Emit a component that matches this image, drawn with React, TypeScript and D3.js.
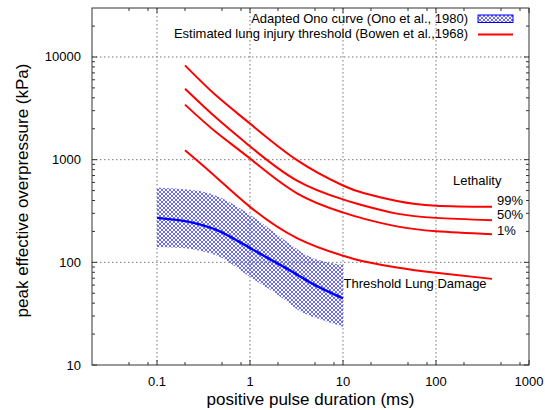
import React from "react";
import * as d3 from "d3";

// curves (x in ms, y in kPa)
const lethX = [0.2, 0.43, 1, 3.2, 10, 17, 38, 100, 400];
const leth99 = [8280, 4230, 2245, 990, 560, 470, 395, 356, 347];
const leth50 = [4910, 2570, 1349, 625, 410, 355, 298, 271, 257];
const leth1 = [3435, 1857, 1026, 470, 306, 265, 224, 201, 188];
const threshold = [1234, 679, 347, 172, 116, 102, 89, 79, 69];

const onoX = [0.1, 0.2, 0.32, 0.5, 1, 2, 3.2, 5, 10];
const onoMid = [271, 252, 228, 196, 138, 97, 76, 60, 44.6];
const onoUpper = [536, 515, 485, 420, 290, 184, 135, 108, 94];
const onoLower = [141, 137, 127, 110, 72, 48, 35, 29, 23.6];

const xMajor = [0.1, 1, 10, 100, 1000];
const xMajorLabels = ["0.1", "1", "10", "100", "1000"];
const xMinor = [0.05, 0.08, 0.2, 0.5, 0.8, 2, 5, 8, 20, 50, 80, 200, 500, 800];
const yMajor = [10, 100, 1000, 10000];
const yMajorLabels = ["10", "100", "1000", "10000"];
const yMinorMult = [2, 3, 4, 5, 6, 7, 8, 9];
const yDecades = [10, 100, 1000, 10000];

const legendLabels = [
  "Adapted Ono curve (Ono et al., 1980)",
  "Estimated lung injury threshold (Bowen et al.,1968)",
];
const lethalityLabels = ["99%", "50%", "1%"];

const W = 545;
const H = 410;
const left = 92;
const right = 529;
const top = 8;
const bottom = 365;
const font = "'Liberation Sans', Arial, sans-serif";

export default function App() {
  const x = d3.scaleLog().domain([0.02, 1000]).range([left, right]);
  const y = d3.scaleLog().domain([10, 30000]).range([bottom, top]);

  const yMinor: number[] = [];
  yDecades.forEach((d) =>
    yMinorMult.forEach((m) => {
      if (d * m < 30000) yMinor.push(d * m);
    })
  );

  const line = d3
    .line<[number, number]>()
    .x((d) => x(d[0]))
    .y((d) => y(d[1]))
    .curve(d3.curveNatural);

  const band = d3
    .area<number>()
    .x((d, i) => x(onoX[i]))
    .y0((d, i) => y(onoLower[i]))
    .y1((d, i) => y(onoUpper[i]))
    .curve(d3.curveNatural);

  const red = [leth99, leth50, leth1, threshold];
  const zip = (xs: number[], ys: number[]) =>
    xs.map((v, i) => [v, ys[i]] as [number, number]);

  const grid = "#777";
  const axis = "#333";
  const lethY = [205, 219, 234.5];

  return (
    <div style={{ position: "absolute", left: 0, top: 0 }}>
      <svg width={W} height={H} style={{ display: "block", background: "#fff" }} fontFamily={font}>
        <defs>
          <pattern id="hatch" patternUnits="userSpaceOnUse" width="4" height="4">
            <path d="M0,0 L4,4 M4,0 L0,4" stroke="#5a5aff" strokeWidth="0.9" fill="none" />
          </pattern>
          <clipPath id="plot">
            <rect x={left} y={top} width={right - left} height={bottom - top} />
          </clipPath>
        </defs>

        {/* grid */}
        {xMajor.slice(0, 4).map((v) => (
          <line key={"gx" + v} x1={x(v)} x2={x(v)} y1={top} y2={bottom}
            stroke={grid} strokeWidth={1} strokeDasharray="1.5,2.5" />
        ))}
        {yMajor.slice(1).map((v) => (
          <line key={"gy" + v} x1={left} x2={right} y1={y(v)} y2={y(v)}
            stroke={grid} strokeWidth={1} strokeDasharray="1.5,2.5" />
        ))}

        {/* ticks on all four sides */}
        {xMajor.map((v) => (
          <g key={"tx" + v} stroke={axis}>
            <line x1={x(v)} x2={x(v)} y1={bottom} y2={bottom - 5} />
            <line x1={x(v)} x2={x(v)} y1={top} y2={top + 5} />
          </g>
        ))}
        {xMinor.map((v) => (
          <g key={"mx" + v} stroke={axis}>
            <line x1={x(v)} x2={x(v)} y1={bottom} y2={bottom - 3} />
            <line x1={x(v)} x2={x(v)} y1={top} y2={top + 3} />
          </g>
        ))}
        {yMajor.map((v) => (
          <g key={"ty" + v} stroke={axis}>
            <line x1={left} x2={left + 5} y1={y(v)} y2={y(v)} />
            <line x1={right} x2={right - 5} y1={y(v)} y2={y(v)} />
          </g>
        ))}
        {yMinor.map((v) => (
          <g key={"my" + v} stroke={axis}>
            <line x1={left} x2={left + 3} y1={y(v)} y2={y(v)} />
            <line x1={right} x2={right - 3} y1={y(v)} y2={y(v)} />
          </g>
        ))}

        {/* data */}
        <g clipPath="url(#plot)">
          <path d={band(onoX) || ""} fill="url(#hatch)" />
          {red.map((s, i) => (
            <path key={"r" + i} d={line(zip(lethX, s)) || ""} fill="none"
              stroke="#ff0000" strokeWidth={2} />
          ))}
          <path d={line(zip(onoX, onoMid)) || ""} fill="none" stroke="#0000ff" strokeWidth={2.5} />
        </g>

        {/* frame */}
        <rect x={left} y={top} width={right - left} height={bottom - top}
          fill="none" stroke={axis} strokeWidth={1} />

        {/* tick labels */}
        {xMajor.map((v, i) => (
          <text key={"lx" + v} x={x(v)} y={386} fontSize={13} textAnchor="middle" fill="#000">
            {xMajorLabels[i]}
          </text>
        ))}
        {yMajor.map((v, i) => (
          <text key={"ly" + v} x={81} y={y(v) + 4.5} fontSize={13} textAnchor="end" fill="#000">
            {yMajorLabels[i]}
          </text>
        ))}

        {/* axis titles */}
        <text x={(left + right) / 2} y={405} fontSize={17} textAnchor="middle" fill="#000">
          positive pulse duration (ms)
        </text>
        <text transform={`translate(28,${(top + bottom) / 2 + 4}) rotate(-90)`} fontSize={17}
          textAnchor="middle" fill="#000">
          peak effective overpressure (kPa)
        </text>

        {/* legend */}
        <text x={468} y={22.5} fontSize={13} textAnchor="end" fill="#000">{legendLabels[0]}</text>
        <rect x={478} y={15} width={35} height={7.5} fill="url(#hatch)" stroke="#0000ff" strokeWidth={1} />
        <text x={468} y={38} fontSize={13} textAnchor="end" fill="#000">{legendLabels[1]}</text>
        <line x1={478} x2={513} y1={34.5} y2={34.5} stroke="#ff0000" strokeWidth={2} />

        {/* annotations */}
        <text x={453} y={185} fontSize={13} fill="#000">Lethality</text>
        {lethalityLabels.map((t, i) => (
          <text key={t} x={497} y={lethY[i]} fontSize={13} fill="#000">{t}</text>
        ))}
        <text x={343.5} y={288} fontSize={13} fill="#000">Threshold Lung Damage</text>
      </svg>
    </div>
  );
}
